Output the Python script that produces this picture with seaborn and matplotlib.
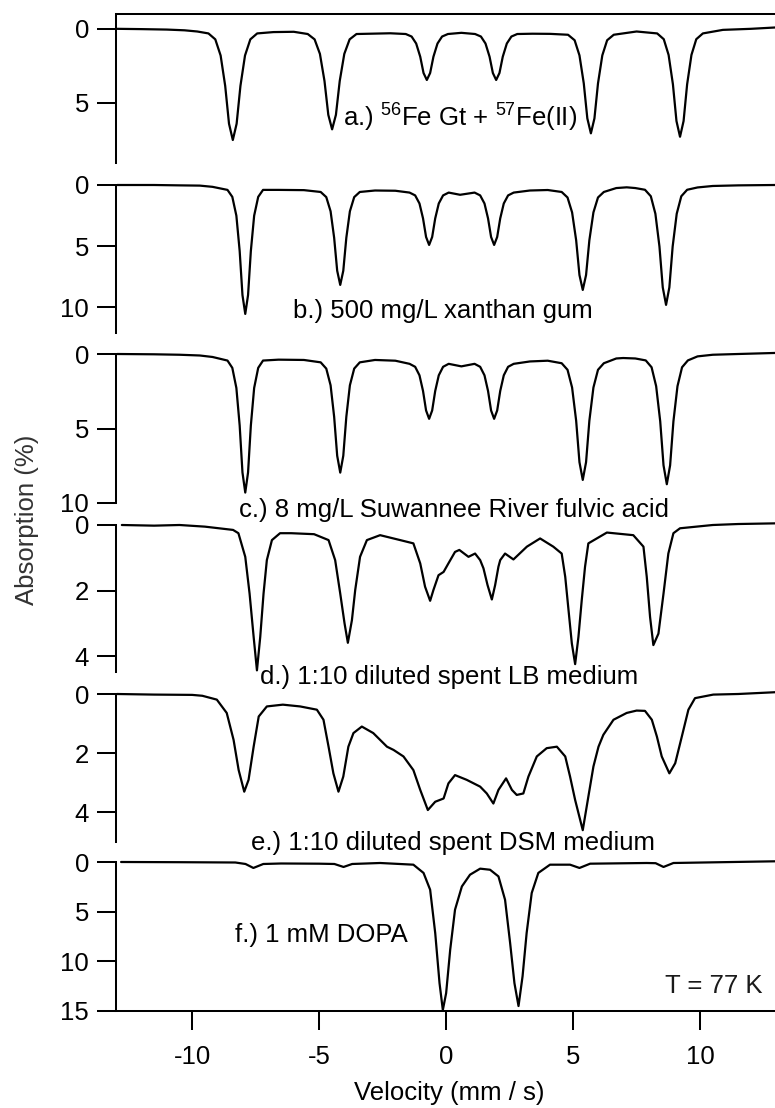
import matplotlib
matplotlib.use("Agg")
import matplotlib.pyplot as plt
import seaborn as sns

# ---------------------------------------------------------------- data
# Mossbauer spectra (T = 77 K): velocity in mm/s, absorption in %
vel_a = [-12.95, -12.0, -11.0, -10.3, -9.8,
         -9.36, -9.09, -8.88, -8.70, -8.55, -8.40, -8.25, -8.10, -7.92, -7.71, -7.44,
         -6.8, -6.0,
         -5.45, -5.18, -4.97, -4.79, -4.64, -4.49, -4.34, -4.19, -4.01, -3.80, -3.53,
         -3.0, -2.2,
         -1.59, -1.36, -1.18, -1.02, -0.89, -0.76, -0.63, -0.50, -0.34, -0.16, 0.07,
         0.6,
         1.14, 1.37, 1.55, 1.71, 1.84, 1.97, 2.10, 2.23, 2.39, 2.57, 2.80,
         3.4, 4.1,
         4.80, 5.06, 5.25, 5.42, 5.56, 5.70, 5.84, 5.98, 6.15, 6.34, 6.60,
         7.5,
         8.31, 8.57, 8.76, 8.93, 9.07, 9.21, 9.35, 9.49, 9.66, 9.85, 10.11,
         10.9, 12.0, 12.95]
abs_a = [0.0, 0.02, 0.05, 0.1, 0.18,
         0.31, 0.71, 1.8, 3.85, 6.4, 7.5, 6.4, 3.85, 1.8, 0.71, 0.31,
         0.22, 0.2,
         0.35, 0.71, 1.69, 3.52, 5.8, 6.78, 5.8, 3.52, 1.69, 0.71, 0.35,
         0.33, 0.3,
         0.35, 0.52, 0.99, 1.88, 2.98, 3.45, 2.98, 1.88, 0.99, 0.52, 0.35,
         0.27,
         0.35, 0.52, 0.99, 1.88, 2.98, 3.45, 2.98, 1.88, 0.99, 0.52, 0.35,
         0.33, 0.34,
         0.4, 0.77, 1.79, 3.68, 6.04, 7.05, 6.04, 3.68, 1.79, 0.77, 0.4,
         0.18,
         0.31, 0.7, 1.76, 3.74, 6.22, 7.28, 6.22, 3.74, 1.76, 0.7, 0.31,
         0.07, 0.0, -0.09]

vel_b = [-12.95, -11.5, -10.5, -9.7, -9.2,
         -8.61, -8.42, -8.26, -8.13, -8.02, -7.91, -7.80, -7.69, -7.56, -7.40, -7.21,
         -6.6, -5.6,
         -4.94, -4.72, -4.55, -4.41, -4.29, -4.17, -4.05, -3.93, -3.79, -3.62, -3.40,
         -2.8, -2.0,
         -1.44, -1.22, -1.05, -0.91, -0.79, -0.67, -0.55, -0.43, -0.29, -0.12, 0.10,
         0.55,
         1.12, 1.34, 1.51, 1.65, 1.77, 1.89, 2.01, 2.13, 2.27, 2.44, 2.66,
         3.3, 4.0,
         4.55, 4.78, 4.96, 5.12, 5.25, 5.38, 5.51, 5.64, 5.80, 5.98, 6.21,
         6.7, 7.11, 7.45,
         7.83, 8.06, 8.24, 8.40, 8.53, 8.66, 8.79, 8.92, 9.08, 9.26, 9.49,
         9.9, 10.5, 11.5, 12.95]
abs_b = [0.0, 0.0, 0.03, 0.05, 0.15,
         0.4, 0.97, 2.51, 5.4, 9.0, 10.54, 9.0, 5.4, 2.51, 0.97, 0.4,
         0.4, 0.42,
         0.57, 0.99, 2.15, 4.31, 7.01, 8.17, 7.01, 4.31, 2.15, 0.99, 0.57,
         0.45, 0.47,
         0.62, 0.85, 1.51, 2.73, 4.25, 4.9, 4.25, 2.73, 1.51, 0.85, 0.62,
         0.8,
         0.62, 0.85, 1.51, 2.73, 4.25, 4.9, 4.25, 2.73, 1.51, 0.85, 0.62,
         0.45, 0.41,
         0.57, 1.02, 2.24, 4.52, 7.36, 8.58, 7.36, 4.52, 2.24, 1.02, 0.57,
         0.25, 0.19, 0.25,
         0.39, 0.92, 2.35, 5.03, 8.37, 9.8, 8.37, 5.03, 2.35, 0.92, 0.39,
         0.2, 0.08, 0.03, 0.0]

vel_c = [-12.95, -11.5, -10.5, -9.7, -9.2,
         -8.61, -8.42, -8.26, -8.13, -8.02, -7.91, -7.80, -7.69, -7.56, -7.40, -7.21,
         -6.6, -5.6,
         -4.94, -4.72, -4.55, -4.41, -4.29, -4.17, -4.05, -3.93, -3.79, -3.62, -3.40,
         -2.8, -2.0,
         -1.44, -1.22, -1.05, -0.91, -0.79, -0.67, -0.55, -0.43, -0.29, -0.12, 0.10,
         0.6,
         1.12, 1.34, 1.51, 1.65, 1.77, 1.89, 2.01, 2.13, 2.27, 2.44, 2.66,
         3.3, 4.0,
         4.55, 4.78, 4.96, 5.12, 5.25, 5.38, 5.51, 5.64, 5.80, 5.98, 6.21,
         6.7, 6.97, 7.45,
         7.86, 8.09, 8.27, 8.43, 8.56, 8.69, 8.82, 8.95, 9.11, 9.29, 9.52,
         9.9, 10.5, 11.5, 12.95]
abs_c = [0.0, 0.02, 0.05, 0.1, 0.2,
         0.44, 0.93, 2.28, 4.8, 7.95, 9.3, 7.95, 4.8, 2.28, 0.93, 0.44,
         0.38, 0.4,
         0.56, 0.98, 2.1, 4.21, 6.83, 7.96, 6.83, 4.21, 2.1, 0.98, 0.56,
         0.4, 0.45,
         0.66, 0.86, 1.43, 2.48, 3.79, 4.35, 3.79, 2.48, 1.43, 0.86, 0.66,
         0.83,
         0.66, 0.86, 1.43, 2.48, 3.79, 4.35, 3.79, 2.48, 1.43, 0.86, 0.66,
         0.5, 0.45,
         0.62, 1.06, 2.25, 4.48, 7.26, 8.45, 7.26, 4.48, 2.25, 1.06, 0.62,
         0.3, 0.27, 0.3,
         0.43, 0.89, 2.16, 4.52, 7.47, 8.74, 7.47, 4.52, 2.16, 0.89, 0.43,
         0.16, 0.05, 0.0, -0.07]

vel_d = [-12.77, -11.5, -10.5, -9.5, -8.39,
         -8.18, -7.91, -7.74, -7.58, -7.45, -7.32, -7.19, -7.06, -6.86, -6.54,
         -6.1, -5.2, -4.63,
         -4.37, -4.17, -4.0, -3.87, -3.71, -3.58, -3.39, -3.12, -2.6,
         -1.81, -1.29, -1.02, -0.83, -0.63, -0.5, -0.3, -0.1, 0.09, 0.35, 0.52, 0.88, 1.14, 1.34,
         1.47, 1.63, 1.80, 1.93, 2.06, 2.13, 2.32, 2.65, 3.18, 3.7, 4.22, 4.55,
         4.69, 4.82, 4.95, 5.08, 5.21, 5.34, 5.47, 5.6, 6.33, 7.37, 7.77,
         7.9, 8.03, 8.16, 8.36, 8.56, 8.75, 8.95, 9.21, 10.5, 11.5, 12.95]
abs_d = [0.0, 0.02, 0.0, 0.05, 0.15,
         0.25, 0.97, 2.09, 3.41, 4.43, 3.41, 2.09, 1.07, 0.46, 0.25,
         0.25, 0.28, 0.46,
         1.07, 2.09, 3.0, 3.59, 2.9, 1.98, 0.97, 0.46, 0.31,
         0.46, 0.56, 1.17, 1.88, 2.31, 1.98, 1.53, 1.43, 1.17, 0.82, 0.76, 0.97, 0.87, 1.07,
         1.32, 1.83, 2.27, 1.83, 1.27, 1.07, 0.87, 1.05, 0.66, 0.41, 0.66, 0.87,
         1.58, 2.6, 3.61, 4.24, 3.41, 2.29, 1.27, 0.56, 0.23, 0.31, 0.66,
         1.58, 2.8, 3.66, 3.31, 2.09, 0.87, 0.25, 0.1, 0.0, -0.03, -0.05]

vel_e = [-12.96, -11.5, -10.0, -9.6, -9.03, -8.64, -8.37, -8.17, -7.95, -7.78, -7.58, -7.38, -7.06,
         -6.43, -5.75, -5.09, -4.83, -4.63, -4.44, -4.24, -4.05, -3.85, -3.65, -3.32, -2.87, -2.33,
         -2.07, -1.68, -1.29, -1.02, -0.72, -0.43, -0.1, 0.09, 0.35, 0.81, 1.34, 1.6, 1.86,
         2.06, 2.36, 2.59, 2.78, 3.04, 3.24, 3.57, 3.96, 4.36, 4.69, 4.88, 5.08, 5.38,
         5.6, 5.8, 6.0, 6.19, 6.59, 7.11, 7.5, 7.83, 8.1, 8.3, 8.49, 8.79,
         9.02, 9.28, 9.54, 9.8, 10.52, 11.5, 12.95]
abs_e = [0.0, 0.02, 0.03, 0.06, 0.19, 0.64, 1.55, 2.57, 3.3, 2.9, 1.78, 0.76, 0.42,
         0.36, 0.42, 0.53, 0.87, 1.78, 2.68, 3.3, 2.79, 1.78, 1.32, 1.1, 1.32, 1.78,
         1.89, 2.11, 2.57, 3.24, 3.92, 3.64, 3.53, 3.02, 2.74, 2.9, 3.13, 3.36, 3.7,
         3.24, 2.85, 3.24, 3.41, 3.36, 2.79, 2.11, 1.83, 1.78, 2.11, 2.79, 3.58, 4.6,
         3.47, 2.45, 1.78, 1.38, 0.87, 0.64, 0.56, 0.57, 0.87, 1.44, 2.11, 2.68,
         2.34, 1.44, 0.53, 0.14, 0.02, 0.0, -0.06]

vel_f = [-12.8, -10.5, -8.3, -7.9, -7.59, -7.2, -6.5, -5.0, -4.4, -4.04, -3.7, -2.6,
         -1.29, -0.89, -0.63, -0.43, -0.26, -0.13, 0.0, 0.16, 0.35, 0.62, 0.94, 1.34, 1.73,
         2.06, 2.32, 2.52, 2.69, 2.85, 3.01, 3.17, 3.37, 3.63, 4.09, 4.88, 5.25, 5.67,
         7.9, 8.25, 8.56, 8.95, 12.95]
abs_f = [0.0, 0.02, 0.05, 0.2, 0.6, 0.2, 0.15, 0.17, 0.2, 0.5, 0.2, 0.1,
         0.27, 1.1, 2.79, 7.15, 12.2, 14.9, 13.2, 8.83, 4.8, 2.46, 1.28, 0.67, 0.78,
         1.45, 3.8, 8.16, 12.2, 14.5, 11.5, 7.15, 3.12, 1.1, 0.27, 0.27, 0.6, 0.17,
         0.1, 0.12, 0.5, 0.1, -0.07]

sample_labels = [
    "a.) $^{56}$Fe Gt + $^{57}$Fe(II)",
    "b.) 500 mg/L xanthan gum",
    "c.) 8 mg/L Suwannee River fulvic acid",
    "d.) 1:10 diluted spent LB medium",
    "e.) 1:10 diluted spent DSM medium",
    "f.) 1 mM DOPA",
]
yticks = [[0, 5], [0, 5, 10], [0, 5, 10], [0, 2, 4], [0, 2, 4], [0, 5, 10, 15]]
xticks = [-10, -5, 0, 5, 10]
temperature_label = "T = 77 K"

spectra = [(vel_a, abs_a), (vel_b, abs_b), (vel_c, abs_c),
           (vel_d, abs_d), (vel_e, abs_e), (vel_f, abs_f)]

# ---------------------------------------------------------------- layout
W, H = 775, 1108
# (top px, bottom px, y at top, y at bottom, label x, label y)
panel_layout = [
    (14, 163, -1.0, 9.05, 0.53, 6.0),
    (185, 333, 0.0, 12.1, -0.14, 10.3),
    (354, 503, 0.0, 10.0, 0.31, 10.45),
    (525, 672, 0.0, 4.48, 0.12, 4.64),
    (694, 842, 0.0, 5.0, 0.28, 5.04),
    (862, 1011, 0.0, 15.0, -4.93, 7.3),
]

sns.set_style("ticks")
plt.rcParams["font.family"] = ["Liberation Sans", "DejaVu Sans"]
plt.rcParams["axes.unicode_minus"] = False
plt.rcParams["mathtext.fontset"] = "custom"
plt.rcParams["mathtext.rm"] = "Liberation Sans"
plt.rcParams["mathtext.default"] = "regular"

FS = 18.5
LW = 1.45
fig = plt.figure(figsize=(W / 100, H / 100), dpi=100)
fig.patch.set_facecolor("white")

left = 116
axes = []
for i, ((vel, ab), (top, bot, ytop, ybot, lx, ly)) in enumerate(zip(spectra, panel_layout)):
    ax = fig.add_axes([left / W, 1 - bot / H, 1 - left / W, (bot - top) / H])
    ax.patch.set_alpha(0)
    sns.lineplot(x=vel, y=ab, ax=ax, color="black", linewidth=1.6,
                 errorbar=None, legend=False)
    for ln in ax.lines:
        ln.set_clip_on(False)
        ln.set_solid_joinstyle("round")
    ax.set_xlim(-13.0, 12.95)
    ax.set_ylim(ybot, ytop)
    ax.set_yticks(yticks[i])
    ax.set_yticklabels([str(t) for t in yticks[i]])
    ax.set_xlabel("")
    ax.set_ylabel("")
    for side in ("top", "right", "bottom", "left"):
        ax.spines[side].set_linewidth(LW)
        ax.spines[side].set_color("black")
    ax.spines["right"].set_visible(False)
    ax.spines["top"].set_visible(i == 0)
    ax.spines["bottom"].set_visible(i == 5)
    ax.tick_params(axis="y", direction="out", length=13.5, width=LW,
                   labelsize=FS, pad=6, colors="black")
    if i == 5:
        ax.set_xticks(xticks)
        ax.set_xticklabels([str(t) for t in xticks])
        ax.tick_params(axis="x", direction="out", length=13.5, width=LW,
                       labelsize=FS, pad=11, colors="black")
    else:
        ax.set_xticks([])
    ax.text(lx, ly, sample_labels[i], fontsize=FS, ha="center", va="center",
            color="black")
    axes.append(ax)

axes[-1].text(10.55, 12.5, temperature_label, fontsize=FS, ha="center",
              va="center", color="#1a1a1a")

fig.text(27 / W, 1 - 520 / H, "Absorption (%)", rotation=90, fontsize=FS,
         ha="center", va="center", color="#333333")
fig.text(449 / W, 1 - 1093 / H, "Velocity (mm / s)", fontsize=FS,
         ha="center", va="center", color="black")

fig.savefig("out.png", dpi=100, facecolor="white")
